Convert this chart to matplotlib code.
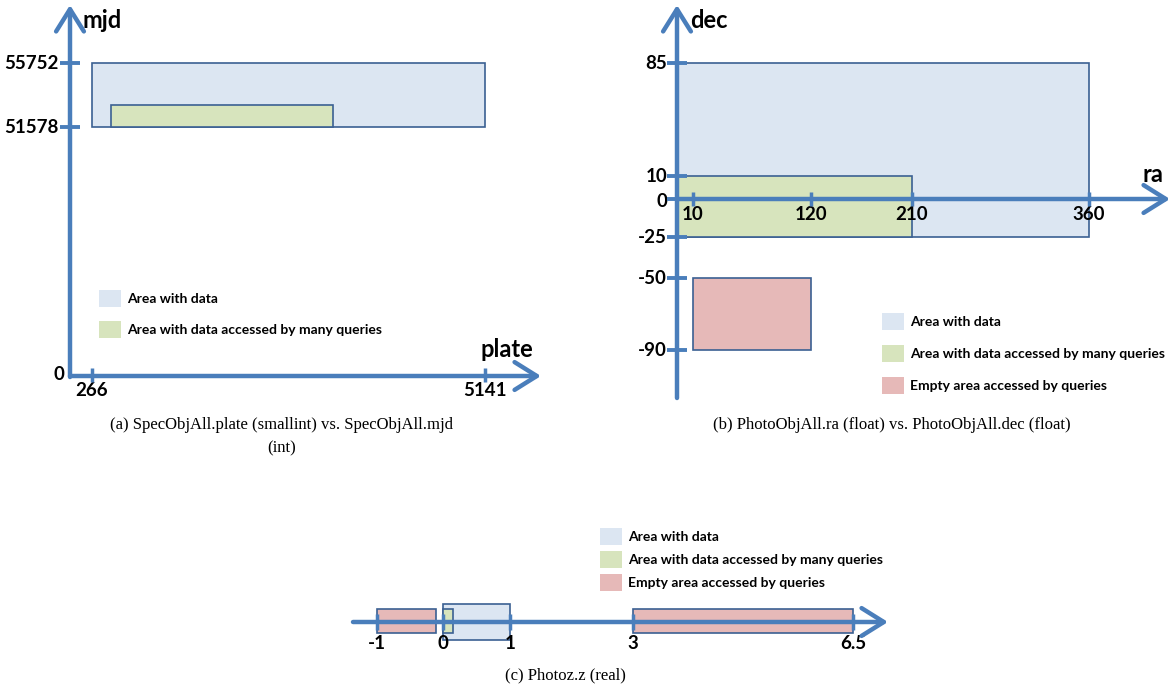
import numpy as np
import matplotlib
matplotlib.use("Agg")
import matplotlib.pyplot as plt
from matplotlib.patches import Rectangle
from matplotlib.transforms import Affine2D

W, H = 1176, 691
BLUE_AX = "#4a7ebb"
EDGE = "#3b6092"
C_DATA = "#dce6f2"
C_MANY = "#d7e4bd"
C_EMPTY = "#e6b9b8"
SANS = ["Lato", "DejaVu Sans"]
SERIF = ["Liberation Serif", "DejaVu Serif"]

# (a) SpecObjAll.plate vs SpecObjAll.mjd
a_xticks = [266, 5141]
a_yticks = [51578, 55752]
a_data = (266, 5141, 51578, 55752)          # x0, x1, y0, y1
a_many = (500, 3250, 51578, 53000)

# (b) PhotoObjAll.ra vs PhotoObjAll.dec
b_xticks = [10, 120, 210, 360]
b_yticks = [85, 10, 0, -25, -50, -90]
b_data = (0, 360, -25, 85)
b_many = (0, 210, -25, 10)
b_empty = (10, 120, -90, -50)

# (c) Photoz.z
c_ticks = [-1, 0, 1, 3, 6.5]
c_tick_labels = ["-1", "0", "1", "3", "6.5"]
c_data = [(0, 1)]
c_many = [(0, 0.15)]
c_empty = [(-1, -0.1), (3, 6.5)]

legend_labels = ["Area with data", "Area with data accessed by many queries",
                 "Empty area accessed by queries"]
legend_colors = [C_DATA, C_MANY, C_EMPTY]

# schematic (not-to-scale) axes: value -> pixel anchors
a_xmap = ([0, 266, 5141], [70, 92, 485])
a_ymap = ([0, 51578, 55752], [375, 127, 63])
b_xmap = ([0, 10, 120, 210, 360], [677, 693, 811, 912, 1089])
b_ymap = ([-90, -50, -25, 0, 10, 85], [350, 278, 237, 199, 176, 63])
c_xmap = ([-1, 0, 1, 3, 6.5], [377, 443, 510, 633, 853])


def interp_ext(v, xs, ys):
    v = np.asarray(v, dtype=float)
    shp = v.shape
    v = np.atleast_1d(v)
    out = np.interp(v, xs, ys)
    lo, hi = v < xs[0], v > xs[-1]
    out[lo] = ys[0] + (v[lo] - xs[0]) * (ys[1] - ys[0]) / (xs[1] - xs[0])
    out[hi] = ys[-1] + (v[hi] - xs[-1]) * (ys[-1] - ys[-2]) / (xs[-1] - xs[-2])
    return out.reshape(shp)


def set_schematic(ax, xmap, ymap=None):
    xv, xp = np.array(xmap[0], float), np.array(xmap[1], float)
    fx = lambda v: interp_ext(v, xv, xp)
    gx = lambda t: interp_ext(t, xp, xv)
    ax.set_xscale("function", functions=(fx, gx))
    ax.set_xlim(gx(0.0), gx(float(W)))
    if ymap is not None:
        yv, yp = np.array(ymap[0], float), H - np.array(ymap[1], float)
        fy = lambda v: interp_ext(v, yv, yp)
        gy = lambda t: interp_ext(t, yp, yv)
        ax.set_yscale("function", functions=(fy, gy))
        ax.set_ylim(gy(0.0), gy(float(H)))
    ax.axis("off")


def rect(ax, r, color):
    x0, x1, y0, y1 = r
    ax.add_patch(Rectangle((x0, y0), x1 - x0, y1 - y0, facecolor=color,
                           edgecolor=EDGE, lw=1.2, zorder=2))


fig = plt.figure(figsize=(W / 100, H / 100), dpi=100)
px = Affine2D().scale(1 / W, -1 / H).translate(0, 1) + fig.transFigure


def arrow(ax, x0, y0, x1, y1):
    ax.annotate("", xy=(x1, y1), xytext=(x0, y0), xycoords=px, textcoords=px,
                arrowprops=dict(arrowstyle="->,head_length=0.8,head_width=0.5",
                                lw=3.2, color=BLUE_AX, shrinkA=0, shrinkB=0,
                                mutation_scale=20), zorder=4)


def legend(ax, x, ys, n):
    for i in range(n):
        ax.add_patch(Rectangle((x, ys[i]), 22, 17, transform=px,
                               facecolor=legend_colors[i], edgecolor="none"))
        ax.text(x + 28, ys[i] + 9, legend_labels[i], transform=px, ha="left",
                va="center", fontsize=10, fontweight="bold", family=SANS)


def tick_label(ax, txt, xy, off, ha, va, size=13.5):
    ax.annotate(txt, xy=xy, xycoords="data", xytext=off, textcoords="offset pixels",
                ha=ha, va=va, fontsize=size, fontweight="bold", family=SANS)


# ---- panel (a)
ax = fig.add_axes([0, 0, 1, 1])
set_schematic(ax, a_xmap, a_ymap)
rect(ax, a_data, C_DATA)
rect(ax, a_many, C_MANY)
arrow(ax, 70, 376, 541, 376)
arrow(ax, 70, 377, 70, 5)
ax.plot(a_xticks, [0] * len(a_xticks), ls="none", marker="|", ms=10, mew=2.5,
        color=BLUE_AX, zorder=5)
ax.plot([0] * len(a_yticks), a_yticks, ls="none", marker="_", ms=14, mew=2.8,
        color=BLUE_AX, zorder=5)
for v in a_xticks:
    tick_label(ax, str(v), (v, 0), (0, -7), "center", "top")
for v in a_yticks:
    tick_label(ax, str(v), (0, v), (-11, 0), "right", "center")
tick_label(ax, "0", (0, 0), (-6, 0), "right", "center")
ax.text(83, 20, "mjd", transform=px, fontsize=17, fontweight="bold", family=SANS,
        ha="left", va="center")
ax.text(533, 350, "plate", transform=px, fontsize=17, fontweight="bold", family=SANS,
        ha="right", va="center")
legend(ax, 99, [290, 321], 2)
ax.text(282, 425, "(a) SpecObjAll.plate (smallint) vs. SpecObjAll.mjd", transform=px,
        ha="center", va="center", fontsize=12, family=SERIF)
ax.text(282, 448, "(int)", transform=px, ha="center", va="center", fontsize=12,
        family=SERIF)

# ---- panel (b)
ax = fig.add_axes([0, 0, 1, 1])
set_schematic(ax, b_xmap, b_ymap)
rect(ax, b_data, C_DATA)
rect(ax, b_many, C_MANY)
rect(ax, b_empty, C_EMPTY)
arrow(ax, 677, 199, 1170, 199)
arrow(ax, 677, 398, 677, 5)
ax.plot(b_xticks, [0] * len(b_xticks), ls="none", marker="|", ms=10, mew=2.5,
        color=BLUE_AX, zorder=5)
ax.plot([0] * len(b_yticks), b_yticks, ls="none", marker="_", ms=14, mew=2.8,
        color=BLUE_AX, zorder=5)
for v in b_xticks:
    tick_label(ax, str(v), (v, 0), (0, -7), "center", "top")
for v in b_yticks:
    tick_label(ax, str(v), (0, v), (-10, 0 if v != 0 else -2), "right", "center")
ax.text(690, 20, "dec", transform=px, fontsize=17, fontweight="bold", family=SANS,
        ha="left", va="center")
ax.text(1163, 175, "ra", transform=px, fontsize=17, fontweight="bold", family=SANS,
        ha="right", va="center")
legend(ax, 882, [313, 345, 377], 3)
ax.text(892, 425, "(b) PhotoObjAll.ra (float) vs. PhotoObjAll.dec (float)",
        transform=px, ha="center", va="center", fontsize=12, family=SERIF)

# ---- panel (c)
ax = fig.add_axes([0, 0, 1, 1])
set_schematic(ax, c_xmap)
for x0, x1 in c_data:
    ax.axvspan(x0, x1, (H - 640) / H, (H - 604) / H, facecolor=C_DATA,
               edgecolor=EDGE, lw=1.2, zorder=2)
for x0, x1 in c_empty:
    ax.axvspan(x0, x1, (H - 633) / H, (H - 609) / H, facecolor=C_EMPTY,
               edgecolor=EDGE, lw=1.2, zorder=2)
for x0, x1 in c_many:
    ax.axvspan(x0, x1, (H - 633) / H, (H - 609) / H, facecolor=C_MANY,
               edgecolor=EDGE, lw=1.2, zorder=3)
arrow(ax, 353, 622, 888, 622)
ax.plot(c_ticks, [(H - 622) / H] * len(c_ticks), ls="none", marker="|", ms=11,
        mew=2.5, color=BLUE_AX, zorder=5, transform=ax.get_xaxis_transform())
for v, lab in zip(c_ticks, c_tick_labels):
    ax.annotate(lab, xy=(v, (H - 630) / H), xycoords=ax.get_xaxis_transform(),
                xytext=(0, -5), textcoords="offset pixels", ha="center", va="top",
                fontsize=13.5, fontweight="bold", family=SANS)
legend(ax, 600, [528, 551, 574], 3)
ax.text(565, 675, "(c) Photoz.z (real)", transform=px, ha="center", va="center",
        fontsize=12, family=SERIF)

fig.savefig("out.png", dpi=100)
